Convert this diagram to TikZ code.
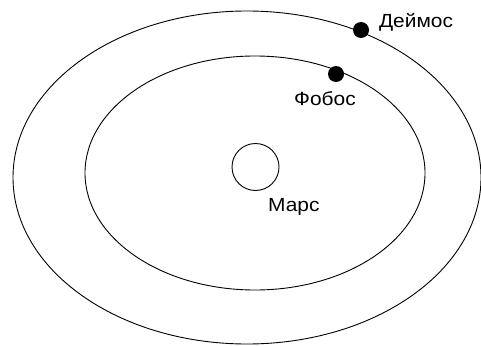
\documentclass[tikz,border=0pt]{standalone}
\usepackage{fontspec}
\setmainfont{Liberation Sans}
\newfontfamily\lblfont[FakeStretch=1.1]{Liberation Sans}
\begin{document}
\begin{tikzpicture}[x=1pt,y=-1pt,
  orbit/.style={draw=black,line width=0.9pt},
  moon/.style={circle,fill=black,inner sep=0pt,minimum size=16pt},
  lbl/.style={anchor=base,inner sep=0pt,font=\lblfont\fontsize{19}{22}\selectfont}]
\useasboundingbox (0,0) rectangle (481,345);
\draw[orbit] (247,177.5) ellipse [x radius=234, y radius=166.5];
\draw[orbit] (255,173) ellipse [x radius=170, y radius=117];
\node[orbit,circle,minimum size=47pt,inner sep=0pt] (mars) at (255.5,167) {};
\node[moon] (deimos) at (361,30) {};
\node[moon] (phobos) at (336,74) {};
\node[lbl] (marslbl) at (293.8,211.7) {Марс};
\node[lbl] (phoboslbl) at (325,105) {Фобос};
\node[lbl] (deimoslbl) at (416,27.3) {Деймос};
\end{tikzpicture}
\end{document}
